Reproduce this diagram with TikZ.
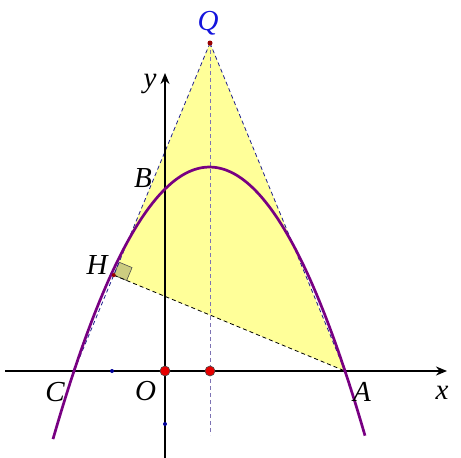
\documentclass[tikz,border=0pt]{standalone}
\usepackage{fontspec}
\setmainfont{Liberation Serif}
\usetikzlibrary{arrows.meta,calc}
\definecolor{fillyel}{RGB}{255,255,153}
\definecolor{sqfill}{RGB}{204,204,128}
\definecolor{parab}{RGB}{120,0,130}
\definecolor{dashblue}{RGB}{30,30,140}
\definecolor{vdash}{RGB}{125,115,180}
\definecolor{ptred}{RGB}{230,0,0}
\definecolor{qblue}{RGB}{20,20,220}
\tikzset{
  lbl/.style={font=\fontsize{29}{31}\selectfont\itshape, inner sep=0pt},
  axis/.style={line width=2.6pt, -{Stealth[length=11pt,width=9pt]}},
  dashline/.style={line width=0.8pt, dash pattern=on 4pt off 3pt},
  bigpt/.style={circle, fill=ptred, draw=black!70, line width=0.6pt, inner sep=0pt, minimum size=10pt},
  smallpt/.style={circle, fill=blue!60!black, inner sep=0pt, minimum size=4pt},
  tinypt/.style={circle, fill=red!60!black, inner sep=0pt, minimum size=4pt}
}
\begin{document}
\begin{tikzpicture}[x=1pt,y=-1pt]
\useasboundingbox (0,0) rectangle (461,458);
\coordinate (O) at (165,371);
\coordinate (Q) at (210,43);
\coordinate (A) at (345,371);
\coordinate (C) at (74,371);
\coordinate (M) at (210,371);
\coordinate (Vb) at (210,435);
\coordinate (H) at ($(C)!(A)!(Q)$);
\coordinate (HQ) at ($(H)!14pt!(Q)$);
\coordinate (HA) at ($(H)!14pt!(A)$);
\coordinate (HS) at ($(HQ)+(HA)-(H)$);
% yellow region
\fill[fillyel] (Q) -- (A) -- (H) -- cycle;
% right angle mark
\filldraw[fill=sqfill, draw=black!70, line width=0.6pt] (H) -- (HQ) -- (HS) -- (HA) -- cycle;
% dashed lines
\draw[dashline, dashblue] (Q) -- (C);
\draw[dashline, dashblue] (Q) -- (A);
\draw[dashline, black] (H) -- (A);
\draw[dashline, vdash] (Q) -- (Vb);
% axes
\coordinate (xs) at (5,371);
\coordinate (xe) at (447,371);
\coordinate (ys) at (165,458);
\coordinate (ye) at (165,73);
\draw[axis] (xs) -- (xe);
\draw[axis] (ys) -- (ye);
% parabola
\draw[parab, line width=2.7pt] plot[domain=-112:200, samples=120, smooth] ({165+\x},{371-0.01111*(\x+91)*(180-\x)});
% points
\node[bigpt] (pO) at (O) {};
\node[bigpt] (pM) at (M) {};
\node[tinypt, minimum size=5pt] (pQ) at (Q) {};
\node[tinypt] (pH) at (H) {};
\node[smallpt] (p1) at (112,371) {};
\node[smallpt] (p2) at (165,424) {};
% labels
\node[lbl, text=qblue] (lQ) at (208,23) {Q};
\node[lbl] (ly) at (150,84) {y};
\node[lbl] (lB) at (143,178) {B};
\node[lbl] (lH) at (97,265) {H};
\node[lbl] (lC) at (55,392) {C};
\node[lbl] (lO) at (145.5,391) {O};
\node[lbl] (lA) at (362,392) {A};
\node[lbl] (lx) at (442,393) {x};
\end{tikzpicture}
\end{document}
